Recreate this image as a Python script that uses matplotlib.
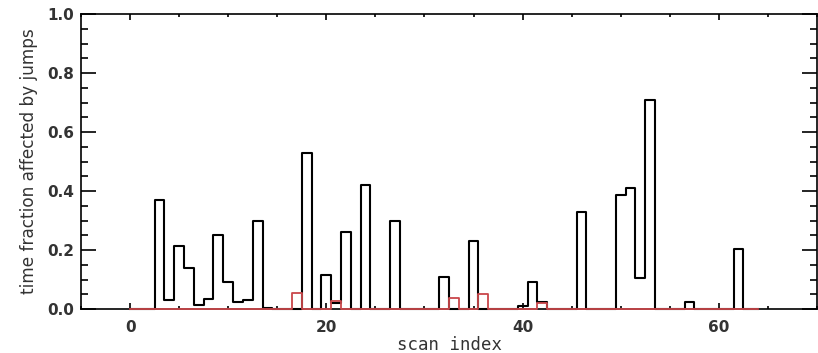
import numpy as np
import matplotlib
matplotlib.use("Agg")
import matplotlib.pyplot as plt
from matplotlib.ticker import MultipleLocator, FormatStrFormatter

# Scan indices and the fraction of time affected by jumps per scan
scan_index = np.arange(0, 65)

frac_total = np.zeros(65)
frac_total_values = {
    3: 0.37, 4: 0.03, 5: 0.215, 6: 0.14, 7: 0.015, 8: 0.035, 9: 0.25,
    10: 0.09, 11: 0.025, 12: 0.03, 13: 0.30, 14: 0.003, 18: 0.53,
    20: 0.115, 21: 0.02, 22: 0.26, 24: 0.42, 27: 0.30, 32: 0.11,
    35: 0.23, 40: 0.01, 41: 0.09, 42: 0.025, 46: 0.33, 50: 0.385,
    51: 0.41, 52: 0.105, 53: 0.71, 57: 0.025, 62: 0.205,
}
for k, v in frac_total_values.items():
    frac_total[k] = v

frac_subset = np.zeros(65)
frac_subset_values = {17: 0.055, 21: 0.028, 33: 0.038, 36: 0.052, 42: 0.02}
for k, v in frac_subset_values.items():
    frac_subset[k] = v

fig = plt.figure(figsize=(8.18, 3.53), dpi=100)
ax = fig.add_axes([81 / 818, 44 / 353, 736 / 818, 295 / 353])

ax.step(scan_index, frac_total, where="mid", color="black", lw=1.5,
        zorder=2.6, clip_on=False)
ax.step(scan_index, frac_subset, where="mid", color="#c9474b", lw=1.3,
        zorder=2.7, clip_on=False)

ax.set_xlim(-5, 70)
ax.set_ylim(0, 1.0)

ax.xaxis.set_major_locator(MultipleLocator(20))
ax.xaxis.set_minor_locator(MultipleLocator(5))
ax.yaxis.set_major_locator(MultipleLocator(0.2))
ax.yaxis.set_minor_locator(MultipleLocator(0.05))
ax.yaxis.set_major_formatter(FormatStrFormatter("%.1f"))

ax.tick_params(which="both", direction="in", top=True, right=True,
               width=1.2, labelsize=11, colors="black")
ax.tick_params(axis="x", which="major", length=4.3, pad=8)
ax.tick_params(axis="x", which="minor", length=2.2)
ax.tick_params(axis="y", which="major", length=10.8, pad=5)
ax.tick_params(axis="y", which="minor", length=5)

for lab in ax.get_xticklabels() + ax.get_yticklabels():
    lab.set_fontweight("bold")
    lab.set_color("#333333")

for sp in ax.spines.values():
    sp.set_linewidth(1.2)

ax.set_xlabel("scan index", fontsize=12.5, family="DejaVu Sans Mono",
              color="#333333", labelpad=1)
ax.set_ylabel("time fraction affected by jumps", fontsize=12.2,
              color="#333333")
ax.yaxis.set_label_coords(-0.058, 0.5)

fig.savefig("out.png", dpi=100, facecolor="white")
